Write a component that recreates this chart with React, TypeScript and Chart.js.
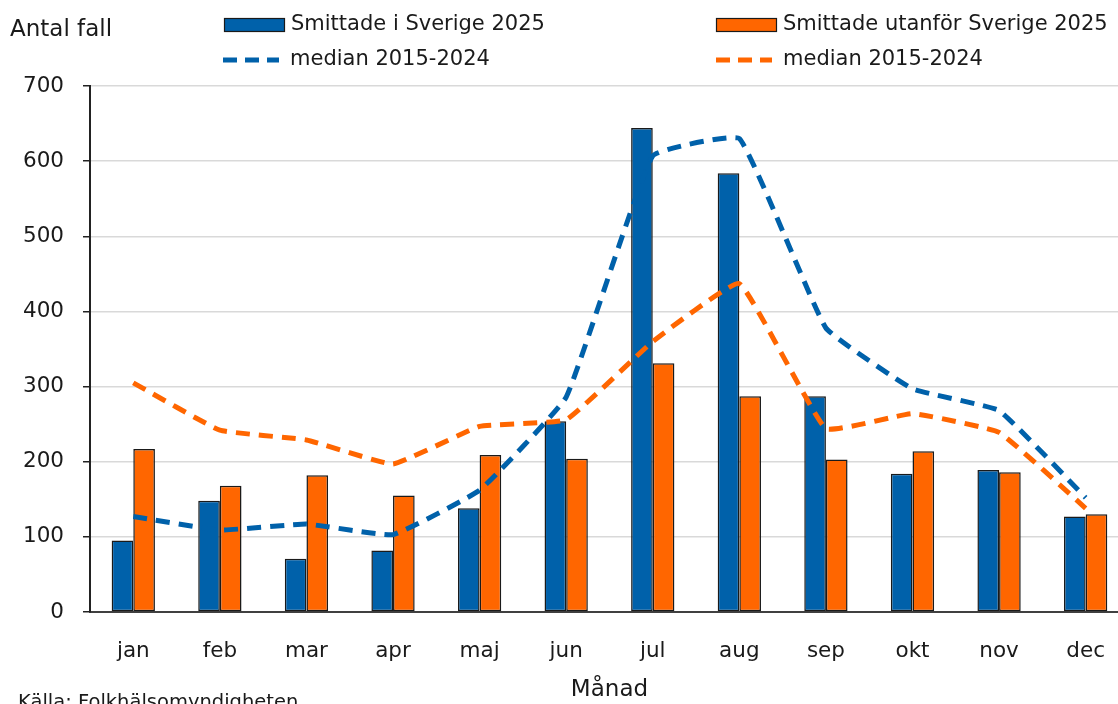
import React, { useEffect, useRef } from "react";
import { Chart, registerables } from "chart.js";

Chart.register(...registerables);

const months = ["jan", "feb", "mar", "apr", "maj", "jun", "jul", "aug", "sep", "okt", "nov", "dec"];
const inSweden2025 = [95, 148, 71, 82, 138, 254, 644, 584, 287, 184, 189, 127];
const abroad2025 = [217, 168, 182, 155, 209, 204, 331, 287, 203, 214, 186, 130];
const medianSweden = [127, 109, 117, 103, 162, 286, 607, 630, 378, 297, 268, 152];
const medianAbroad = [305, 242, 229, 197, 247, 256, 360, 437, 244, 264, 239, 138];
const yTicks = [0, 100, 200, 300, 400, 500, 600, 700];

const BLUE = "#0061aa";
const ORANGE = "#ff6600";
const FONT = "'DejaVu Sans', Tahoma, sans-serif";

const overlayPlugin = {
  id: "overlay",
  afterDraw(chart: any) {
    const ctx = chart.ctx;
    const area = chart.chartArea;
    ctx.save();
    ctx.fillStyle = "#1a1a1a";
    ctx.textBaseline = "middle";
    ctx.font = `23px ${FONT}`;
    ctx.textAlign = "left";
    ctx.fillText("Antal fall", 10, 30);
    ctx.textAlign = "center";
    ctx.fillText("Månad", (area.left + area.right) / 2, 690);
    ctx.textAlign = "left";
    ctx.font = `19.5px ${FONT}`;
    ctx.fillText("Källa: Folkhälsomyndigheten", 18, 703);

    // legend
    const items = [
      { x: 224, y: 25, type: "bar", color: BLUE, text: "Smittade i Sverige 2025" },
      { x: 716, y: 25, type: "bar", color: ORANGE, text: "Smittade utanför Sverige 2025" },
      { x: 223, y: 60, type: "line", color: BLUE, text: "median 2015-2024" },
      { x: 716, y: 60, type: "line", color: ORANGE, text: "median 2015-2024" },
    ];
    ctx.font = `21px ${FONT}`;
    for (const it of items) {
      if (it.type === "bar") {
        ctx.fillStyle = it.color;
        ctx.fillRect(it.x, it.y - 6.5, 60, 13);
        ctx.strokeStyle = "#1a1a1a";
        ctx.lineWidth = 1.2;
        ctx.strokeRect(it.x + 0.5, it.y - 6.5, 60, 13);
      } else {
        ctx.strokeStyle = it.color;
        ctx.lineWidth = 5;
        ctx.setLineDash([14, 8]);
        ctx.beginPath();
        ctx.moveTo(it.x, it.y);
        ctx.lineTo(it.x + 56, it.y);
        ctx.stroke();
        ctx.setLineDash([]);
      }
      ctx.fillStyle = "#1a1a1a";
      ctx.textAlign = "left";
      ctx.fillText(it.text, it.x + 67, it.y);
    }
    ctx.restore();
  },
};

export default function App() {
  const ref = useRef<HTMLCanvasElement | null>(null);
  useEffect(() => {
    if (!ref.current) return;
    const chart = new Chart(ref.current, {
      type: "bar",
      data: {
        labels: months,
        datasets: [
          {
            type: "line",
            label: "median 2015-2024",
            data: medianSweden,
            borderColor: BLUE,
            borderWidth: 5,
            borderDash: [14, 9],
            pointRadius: 0,
            tension: 0.1,
            fill: false,
            order: 0,
          } as any,
          {
            type: "line",
            label: "median 2015-2024 ",
            data: medianAbroad,
            borderColor: ORANGE,
            borderWidth: 5,
            borderDash: [14, 9],
            pointRadius: 0,
            tension: 0.1,
            fill: false,
            order: 0,
          } as any,
          {
            type: "bar",
            label: "Smittade i Sverige 2025",
            data: inSweden2025,
            backgroundColor: BLUE,
            borderColor: "#1a1a1a",
            borderWidth: 1.5,
            borderSkipped: false,
            categoryPercentage: 0.5,
            barPercentage: 1.0,
            order: 1,
          } as any,
          {
            type: "bar",
            label: "Smittade utanför Sverige 2025",
            data: abroad2025,
            backgroundColor: ORANGE,
            borderColor: "#1a1a1a",
            borderWidth: 1.5,
            borderSkipped: false,
            categoryPercentage: 0.5,
            barPercentage: 1.0,
            order: 1,
          } as any,
        ],
      },
      options: {
        animation: false,
        responsive: true,
        maintainAspectRatio: false,
        layout: { padding: { left: 0, right: 0, top: 86, bottom: 0 } },
        plugins: {
          legend: { display: false },
          tooltip: { enabled: false },
        },
        scales: {
          x: {
            grid: { display: false, drawTicks: false },
            border: { display: true, color: "#404040", width: 2 },
            ticks: {
              color: "#1a1a1a",
              font: { family: FONT, size: 21.5 },
              padding: 27,
            },
            afterFit(scale: any) {
              scale.height = 92;
            },
          },
          y: {
            min: 0,
            max: 700,
            afterBuildTicks(scale: any) {
              scale.ticks = yTicks.map((v) => ({ value: v }));
            },
            grid: {
              color: "#d9d9d9",
              lineWidth: 1.5,
              tickLength: 7,
              tickColor: "#222222",
            },
            border: { display: true, color: "#222222", width: 2 },
            ticks: {
              color: "#1a1a1a",
              font: { family: FONT, size: 21.5 },
              padding: 19,
            },
            afterFit(scale: any) {
              scale.width = 90;
            },
          },
        },
      },
      plugins: [overlayPlugin],
    });
    return () => chart.destroy();
  }, []);

  return (
    <div style={{ position: "fixed", left: 0, top: 0, width: 1118, height: 704, overflow: "hidden", background: "#fff" }}>
      <div style={{ position: "relative", width: 1132, height: 704 }}>
        <canvas ref={ref} />
      </div>
    </div>
  );
}
